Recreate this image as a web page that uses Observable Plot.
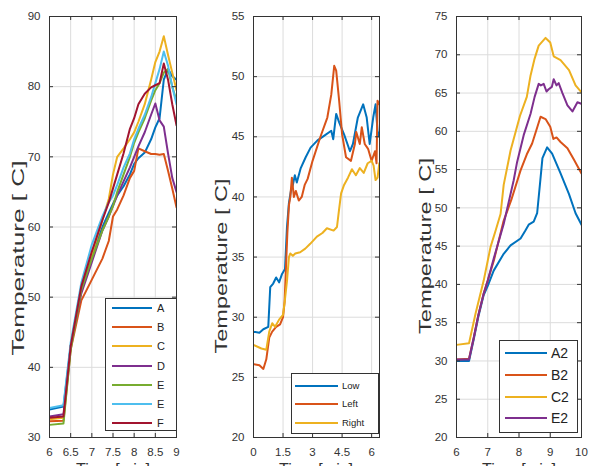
<!DOCTYPE html>
<html>
<head>
<meta charset="utf-8">
<script src="https://cdn.jsdelivr.net/npm/d3@7"></script>
<script src="https://cdn.jsdelivr.net/npm/@observablehq/plot@0.6"></script>
<style>
  html, body { margin: 0; padding: 0; background: #fff; }
  #wrap { position: relative; width: 592px; height: 466px; overflow: hidden; background: #fff; }
  #wrap > svg { position: absolute; top: 0; }
</style>
</head>
<body>
<div id="wrap"></div>
<script>
// ---------- Panel 1 data ----------
const p1Names = ["A", "B", "C", "D", "E", "E ", "F"];
const p1Colors = ["#0072BD", "#D95319", "#EDB120", "#7E2F8E", "#77AC30", "#4DBEEE", "#A2142F"];
const p1Time = [6, 6.33, 6.5, 6.75, 7, 7.25, 7.4, 7.5, 7.6, 7.75, 7.9, 8, 8.1, 8.25, 8.4, 8.5, 8.6, 8.7, 8.8, 8.9, 9];
const p1A = [34.0, 34.4, 43, 51, 56, 60, 62, 63.3, 64.5, 65.8, 67.5, 69, 69.8, 70.6, 72.5, 74.2, 75.5, 81, 82.5, 81.5, 81];
const p1B = [32.3, 32.4, 42.5, 49.5, 52.5, 55.5, 58, 61.5, 62.5, 64.5, 67, 68, 71.2, 70.8, 70.4, 70.4, 70.3, 70.4, 68, 65.5, 62.8];
const p1C = [32.6, 32.8, 43, 51.5, 56, 61, 64, 67.5, 70, 71.2, 72.5, 73.5, 75, 77.5, 81, 83.5, 85, 87.2, 84.5, 82, 79.5];
const p1D = [33.0, 33.3, 43, 50.5, 55, 59.5, 61.5, 63, 64.5, 66.5, 68.5, 70, 71.5, 73.5, 76, 77.6, 75.2, 74.3, 70.5, 67, 65];
const p1E = [31.8, 32.0, 42.5, 51, 55.5, 59.5, 61.5, 63, 65, 67.5, 70, 72, 73.5, 75.5, 78, 79.5, 80.5, 82, 82.5, 80, 78];
const p1E2 = [34.2, 34.6, 43.5, 52, 57.5, 61.5, 63.5, 64.5, 66, 68.5, 70.5, 72.5, 74, 76, 78.5, 80.5, 82.5, 85, 83, 80, 77.5];
const p1F = [32.8, 33.0, 43, 51.5, 56.5, 61, 63.5, 65.5, 67.5, 70.5, 74, 75.5, 77.5, 79, 79.9, 80.2, 80.5, 83.3, 81, 77.5, 74.5];
const p1XTicks = [6, 6.5, 7, 7.5, 8, 8.5, 9];
const p1YTicks = [30, 40, 50, 60, 70, 80, 90];

// ---------- Panel 2 data ----------
const p2Names = ["Low", "Left", "Right"];
const p2Colors = ["#0072BD", "#D95319", "#EDB120"];
const lowTime = [0, 0.3, 0.5, 0.75, 0.85, 1.0, 1.15, 1.3, 1.45, 1.6, 1.7, 1.8, 1.9, 2.0, 2.1, 2.2, 2.4, 2.65, 2.9, 3.25, 3.6, 3.95, 4.05, 4.2, 4.35, 4.6, 4.9, 5.05, 5.3, 5.57, 5.75, 5.9, 6.08, 6.2, 6.3, 6.39];
const lowTemp = [28.8, 28.7, 29.0, 29.2, 32.5, 32.8, 33.3, 32.9, 33.6, 34.0, 37.5, 39.5, 40.5, 41.0, 41.8, 41.2, 42.4, 43.3, 44.1, 44.7, 45.1, 45.5, 44.8, 46.9, 46.2, 45.2, 43.8, 44.4, 46.6, 47.7, 46.6, 44.4, 46.6, 47.7, 45.5, 45.0];
const leftTime = [0, 0.3, 0.5, 0.65, 0.8, 0.95, 1.15, 1.35, 1.5, 1.58, 1.65, 1.72, 1.8, 1.87, 1.95, 2.05, 2.15, 2.3, 2.45, 2.6, 2.75, 3.0, 3.4, 3.75, 3.95, 4.1, 4.2, 4.35, 4.5, 4.7, 4.95, 5.15, 5.22, 5.4, 5.5, 5.65, 5.82, 6.0, 6.17, 6.25, 6.3, 6.39];
const leftTemp = [26.1, 26.0, 25.7, 26.5, 28.3, 28.8, 29.2, 29.4, 30.0, 31.3, 34.2, 37.0, 39.3, 40.0, 41.6, 40.0, 40.5, 39.7, 40.0, 41.0, 41.5, 43.0, 45.0, 46.6, 48.5, 50.9, 50.5, 48.0, 45.2, 43.3, 43.0, 44.4, 45.4, 44.4, 45.8, 44.4, 44.0, 43.0, 43.8, 42.8, 48.0, 47.7];
const rightTime = [0, 0.4, 0.65, 0.8, 0.95, 1.1, 1.3, 1.5, 1.6, 1.7, 1.8, 1.87, 2.0, 2.12, 2.37, 2.63, 2.88, 3.22, 3.5, 3.73, 4.07, 4.24, 4.35, 4.45, 4.6, 4.8, 5.0, 5.2, 5.4, 5.6, 5.8, 6.0, 6.1, 6.2, 6.3, 6.39];
const rightTemp = [27.7, 27.4, 27.3, 28.8, 29.5, 29.2, 29.8, 30.2, 31.5, 33.0, 35.0, 35.3, 35.1, 35.3, 35.4, 35.7, 36.1, 36.7, 37.0, 37.4, 37.2, 37.5, 39.0, 40.3, 41.0, 41.6, 42.3, 41.8, 42.4, 42.0, 42.8, 43.0, 42.6, 41.4, 41.6, 42.8];
const p2XTicks = [0, 1.5, 3, 4.5, 6];
const p2YTicks = [20, 25, 30, 35, 40, 45, 50, 55];

// ---------- Panel 3 data ----------
const p3Names = ["A2", "B2", "C2", "E2"];
const p3Colors = ["#0072BD", "#D95319", "#EDB120", "#7E2F8E"];
const a2Time = [6, 6.4, 6.55, 6.7, 6.87, 7.0, 7.19, 7.51, 7.73, 8.05, 8.2, 8.31, 8.47, 8.58, 8.68, 8.75, 8.9, 9.06, 9.33, 9.6, 9.81, 10];
const a2Temp = [30.0, 30.0, 32.8, 35.8, 38.6, 39.8, 41.8, 44.0, 45.1, 46.0, 47.0, 47.8, 48.2, 49.3, 53.5, 56.5, 57.9, 57.1, 54.5, 51.8, 49.3, 47.8];
const b2Time = [6, 6.4, 6.55, 6.7, 6.87, 7.0, 7.2, 7.5, 7.75, 8.05, 8.25, 8.42, 8.69, 8.85, 9.0, 9.1, 9.2, 9.33, 9.55, 9.76, 10];
const b2Temp = [30.2, 30.3, 33.0, 36.0, 38.8, 40.5, 43.2, 48.2, 51.0, 54.9, 57.0, 58.4, 61.9, 61.6, 60.6, 59.0, 59.2, 58.6, 57.8, 56.3, 54.5];
const c2Time = [6, 6.4, 6.61, 6.87, 7.09, 7.25, 7.41, 7.51, 7.73, 8.03, 8.25, 8.37, 8.5, 8.63, 8.85, 9.0, 9.11, 9.33, 9.6, 9.81, 10];
const c2Temp = [32.1, 32.3, 36.2, 40.5, 44.9, 47.0, 49.2, 53.0, 57.5, 62.0, 64.5, 67.3, 69.5, 71.2, 72.2, 71.6, 69.8, 69.3, 68.0, 66.0, 65.1];
const e2Time = [6, 6.4, 6.55, 6.7, 6.87, 7.0, 7.2, 7.51, 7.83, 7.94, 8.15, 8.37, 8.5, 8.63, 8.7, 8.79, 8.88, 8.95, 9.05, 9.11, 9.2, 9.27, 9.39, 9.55, 9.71, 9.87, 10];
const e2Temp = [30.2, 30.2, 33.0, 36.0, 38.8, 40.5, 43.5, 47.9, 53.6, 56.0, 59.5, 62.3, 64.5, 66.2, 66.0, 66.2, 65.2, 65.5, 65.8, 66.8, 66.0, 66.3, 65.0, 63.4, 62.6, 63.8, 63.6];
const p3XTicks = [6, 7, 8, 9, 10];
const p3YTicks = [20, 25, 30, 35, 40, 45, 50, 55, 60, 65, 70, 75];

// ---------- build tables ----------
const p1Series = [p1A, p1B, p1C, p1D, p1E, p1E2, p1F];
const p1Data = p1Names.flatMap((n, i) => p1Time.map((t, j) => ({series: n, t, v: p1Series[i][j]})));
const pairs = (n, ts, vs) => ts.map((t, j) => ({series: n, t, v: vs[j]}));
const p2Data = [
  ...pairs("Low", lowTime, lowTemp),
  ...pairs("Left", leftTime, leftTemp),
  ...pairs("Right", rightTime, rightTemp)
];
const p3Data = [
  ...pairs("A2", a2Time, a2Temp),
  ...pairs("B2", b2Time, b2Temp),
  ...pairs("C2", c2Time, c2Temp),
  ...pairs("E2", e2Time, e2Temp)
];

const FONT = "'Liberation Sans', Arial, sans-serif";
const AX = "#333";
const H = 466, MT = 16, MB = 29;
const fmt = d => String(d);

function panel(o) {
  const pw = o.width - o.marginLeft - o.marginRight;
  const ph = H - MT - MB;
  return Plot.plot({
    width: o.width, height: H,
    marginTop: MT, marginBottom: MB, marginLeft: o.marginLeft, marginRight: o.marginRight,
    style: {fontFamily: FONT, fontSize: "11.5px", color: AX, background: "transparent"},
    x: {domain: o.xDomain, ticks: o.xTicks},
    y: {domain: o.yDomain, ticks: o.yTicks},
    color: {domain: o.names, range: o.colors},
    marks: [
      Plot.gridX({ticks: o.xTicks, stroke: "#dcdcdc", strokeOpacity: 1}),
      Plot.gridY({ticks: o.yTicks, stroke: "#dcdcdc", strokeOpacity: 1}),
      Plot.line(o.data, {x: "t", y: "v", z: "series", stroke: "series", strokeWidth: 2, clip: true}),
      Plot.tickX(o.xTicks, {x: d => d, stroke: AX, insetTop: ph - 4}),
      Plot.tickX(o.xTicks, {x: d => d, stroke: AX, insetBottom: ph - 4}),
      Plot.tickY(o.yTicks, {y: d => d, stroke: AX, insetRight: pw - 4}),
      Plot.tickY(o.yTicks, {y: d => d, stroke: AX, insetLeft: pw - 4}),
      Plot.frame({stroke: AX, strokeWidth: 1}),
      Plot.axisX({ticks: o.xTicks, tickFormat: fmt, tickSize: 0, tickPadding: 10, label: null, fill: AX}),
      Plot.axisY({ticks: o.yTicks, tickFormat: fmt, tickSize: 0, tickPadding: 9, label: null, fill: AX})
    ]
  });
}

const wrap = document.getElementById("wrap");
const panels = [
  {left: 0, width: 197, marginLeft: 49, marginRight: 21, xDomain: [6, 9], yDomain: [30, 90],
   xTicks: p1XTicks, yTicks: p1YTicks, names: p1Names, colors: p1Colors, data: p1Data},
  {left: 197, width: 197, marginLeft: 56, marginRight: 15, xDomain: [0, 6.4], yDomain: [20, 55],
   xTicks: p2XTicks, yTicks: p2YTicks, names: p2Names, colors: p2Colors, data: p2Data},
  {left: 394, width: 198, marginLeft: 62, marginRight: 11, xDomain: [6, 10], yDomain: [20, 75],
   xTicks: p3XTicks, yTicks: p3YTicks, names: p3Names, colors: p3Colors, data: p3Data}
];
for (const p of panels) {
  const svg = panel(p);
  svg.style.left = p.left + "px";
  wrap.appendChild(svg);
}

// ---------- overlay: axis titles and legends ----------
const ov = d3.select(wrap).append("svg")
  .attr("width", 592).attr("height", 466)
  .style("left", "0px").style("top", "0px")
  .style("font-family", FONT);

const yLabels = [
  {x: 18, y: 258, len: 195},
  {x: 221, y: 266, len: 175},
  {x: 425, y: 246, len: 176}
];
for (const l of yLabels) {
  ov.append("text")
    .attr("transform", `translate(${l.x},${l.y}) rotate(-90)`)
    .attr("text-anchor", "middle").attr("dy", "0.35em")
    .attr("font-size", 16).attr("fill", "#333")
    .attr("textLength", l.len).attr("lengthAdjust", "spacingAndGlyphs")
    .text("Temperature [  C]");
}
const xLabelX = [113, 316, 519];
for (const x of xLabelX) {
  ov.append("text").attr("x", x).attr("y", 475).attr("text-anchor", "middle")
    .attr("font-size", 16).attr("fill", "#333").text("Time [min]");
}

const legends = [
  {x0: 105, y0: 298, x1: 176, y1: 430, names: p1Names, colors: p1Colors, ys: [308, 327, 346, 366, 385, 404, 423],
   lx0: 112, lx1: 152, tx: 157, fs: 11},
  {x0: 291, y0: 373, x1: 378, y1: 433, names: p2Names, colors: p2Colors, ys: [386, 404, 423],
   lx0: 295, lx1: 338, tx: 342, fs: 9.5},
  {x0: 499, y0: 340, x1: 577, y1: 432, names: p3Names, colors: p3Colors, ys: [353, 375, 397, 418],
   lx0: 505, lx1: 547, tx: 551, fs: 14}
];
for (const L of legends) {
  ov.append("rect").attr("x", L.x0 + 0.5).attr("y", L.y0 + 0.5)
    .attr("width", L.x1 - L.x0).attr("height", L.y1 - L.y0)
    .attr("fill", "#fff").attr("stroke", "#333");
  L.names.forEach((n, i) => {
    ov.append("line").attr("x1", L.lx0).attr("x2", L.lx1).attr("y1", L.ys[i]).attr("y2", L.ys[i])
      .attr("stroke", L.colors[i]).attr("stroke-width", 2);
    ov.append("text").attr("x", L.tx).attr("y", L.ys[i]).attr("dy", "0.35em")
      .attr("font-size", L.fs).attr("fill", "#222").text(n.trim());
  });
}
</script>
</body>
</html>
